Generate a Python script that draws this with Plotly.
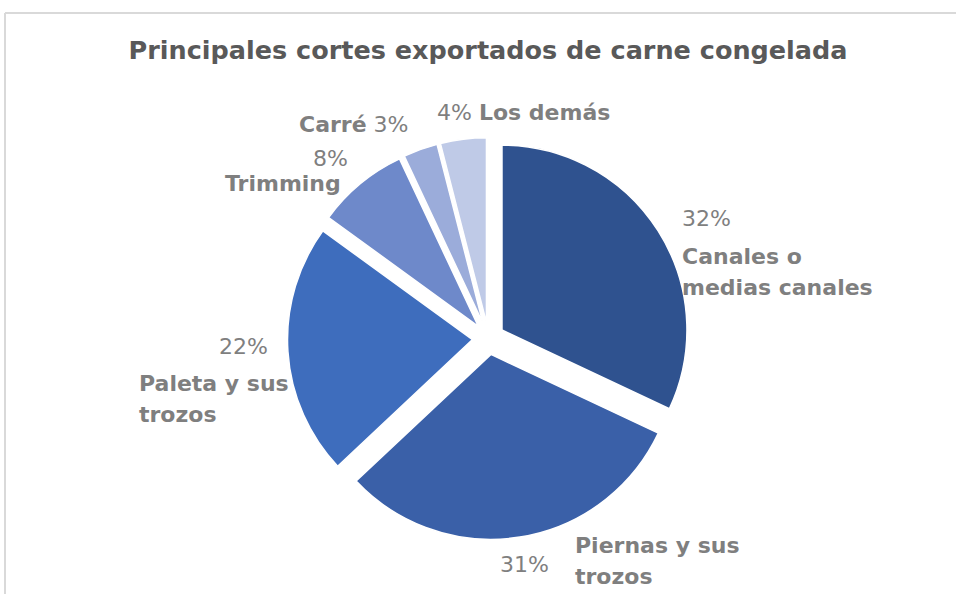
import textwrap
import plotly.graph_objects as go

# data
categories = ["Canales o medias canales", "Piernas y sus trozos", "Paleta y sus trozos",
              "Trimming", "Carré", "Los demás"]
shares = [32, 31, 22, 8, 3, 4]

colors = ["#2F528F", "#3A60A8", "#3E6DBD", "#6E89CA", "#9BACDA", "#BFCAE7"]

W, H = 956, 594
GREY = "#7F7F7F"
FONT = "DejaVu Sans"

total = sum(shares)
pcts = [f"{round(v / total * 100)}%" for v in shares]

fig = go.Figure(go.Pie(
    labels=categories,
    values=shares,
    sort=False,
    direction="clockwise",
    rotation=0,
    pull=0.0865,
    textinfo="none",
    marker=dict(colors=colors, line=dict(color="white", width=1.5)),
    domain=dict(x=[0.3007, 0.7212], y=[0.0916, 0.7683]),
    showlegend=False,
))


def px_ann(text, x, y, xanchor, size=22, bold=True):
    return dict(
        text=f"<b>{text}</b>" if bold else text,
        x=x / W, y=1 - y / H, xref="paper", yref="paper",
        xanchor=xanchor, yanchor="middle", showarrow=False, align=xanchor,
        font=dict(family=FONT, size=size, color=GREY),
    )


def name_lines(i, x, y0, xanchor, gap=31.5):
    return [px_ann(line, x, y0 + k * gap, xanchor) for k, line in enumerate(textwrap.wrap(categories[i], 14))]


anns = []
# Canales o medias canales
anns.append(px_ann(pcts[0], 680, 218, "left", 22, False))
anns += name_lines(0, 680, 256, "left")
# Piernas y sus trozos
anns += name_lines(1, 573, 545, "left")
anns.append(px_ann(pcts[1], 551, 564, "right", 22, False))
# Paleta y sus trozos
anns.append(px_ann(pcts[2], 270, 347, "right", 22, False))
anns += name_lines(2, 137, 383, "left")
# Trimming
anns.append(px_ann(pcts[3], 350, 158, "right", 22, False))
anns += name_lines(3, 343, 184, "right")
# Carré
anns.append(px_ann(f"<b>{categories[4]}</b> {pcts[4]}", 411, 125, "right", 22, False))
# Los demás
anns.append(px_ann(f"{pcts[5]} <b>{categories[5]}</b>", 435, 112, "left", 22, False))

fig.update_layout(
    width=W, height=H,
    margin=dict(l=0, r=0, t=0, b=0),
    paper_bgcolor="white",
    title=dict(
        text="<b>Principales cortes exportados de carne congelada</b>",
        x=488 / W, xanchor="center", y=1 - 50 / H, yanchor="middle",
        font=dict(family=FONT, size=25.5, color="#595959"),
    ),
    annotations=anns,
    shapes=[
        dict(type="line", xref="paper", yref="paper", x0=5 / W, x1=1, y0=1 - 13 / H, y1=1 - 13 / H,
             line=dict(color="#D9D9D9", width=2)),
        dict(type="line", xref="paper", yref="paper", x0=5 / W, x1=5 / W, y0=0, y1=1 - 13 / H,
             line=dict(color="#D9D9D9", width=2)),
    ],
)

fig.write_html("out.html", config={"displayModeBar": False},
               post_script="document.body.style.margin='0';")
